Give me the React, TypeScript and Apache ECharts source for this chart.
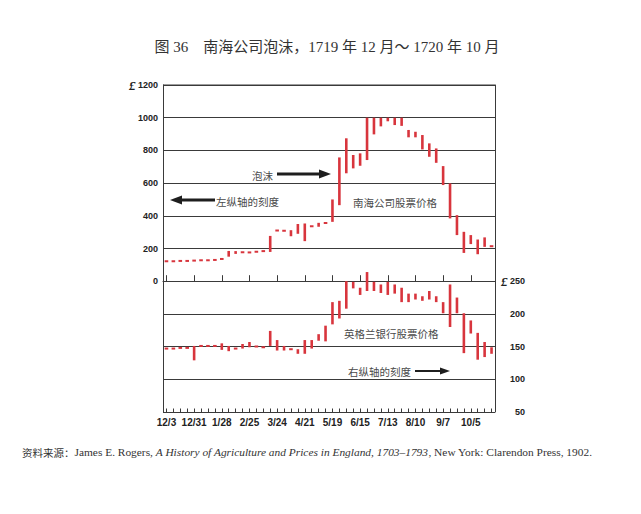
import React, { useEffect, useRef } from "react";
import * as echarts from "echarts";

// Weekly observation dates, Dec 1719 – Oct 1720
const weeks = [
  "12/3", "12/10", "12/17", "12/24", "12/31", "1/7", "1/14", "1/21",
  "1/28", "2/4", "2/11", "2/18", "2/25", "3/3", "3/10", "3/17",
  "3/24", "3/31", "4/7", "4/14", "4/21", "4/28", "5/5", "5/12",
  "5/19", "5/26", "6/2", "6/9", "6/15", "6/22", "6/29", "7/6",
  "7/13", "7/20", "7/27", "8/3", "8/10", "8/17", "8/24", "8/31",
  "9/7", "9/14", "9/21", "9/28", "10/5", "10/12", "10/19", "10/26",
];

// South Sea Company stock, weekly low / high (£, left axis)
const southSeaLow = [
  122, 122, 124, 124, 126, 128, 128, 130, 136, 150, 167, 177,
  176, 180, 184, 179, 309, 305, 275, 290, 245, 336, 333, 356,
  363, 465, 660, 690, 706, 741, 898, 947, 978, 955, 950, 880,
  880, 806, 761, 724, 588, 384, 282, 173, 227, 165, 210, 214,
];
const southSeaHigh = [
  122, 122, 124, 124, 126, 128, 128, 130, 136, 185, 184, 177,
  176, 180, 184, 277, 311, 312, 312, 350, 353, 336, 357, 356,
  500, 757, 874, 772, 782, 1000, 1000, 1000, 1000, 1000, 1000, 925,
  914, 894, 843, 812, 704, 598, 404, 302, 282, 255, 268, 214,
];

// Bank of England stock, weekly low / high (£, right axis)
const bankLow = [
  147, 147, 148, 148, 129, 151, 151, 151, 145, 143, 147, 147,
  149, 150, 149, 151, 144, 144, 146, 139, 139, 147, 159, 158,
  184, 193, 208, 239, 229, 235, 235, 232, 229, 231, 218, 218,
  222, 220, 222, 218, 201, 180, 201, 140, 170, 130, 134, 139,
];
const bankHigh = [
  147, 147, 148, 148, 151, 151, 151, 151, 155, 151, 147, 154,
  157, 150, 149, 174, 160, 151, 146, 146, 160, 160, 169, 182,
  218, 220, 250, 249, 240, 264, 249, 245, 249, 245, 240, 231,
  231, 227, 235, 227, 218, 245, 225, 201, 190, 171, 157, 149,
];

const leftTicks = { min: -800, max: 1200, interval: 200 };
const rightTicks = { min: 50, max: 550, interval: 50 };

const RED = "#d8353d";
const INK = "#3a3a3a";
const CJK = "'Noto Sans CJK SC', sans-serif";
const SERIF = "'Liberation Serif', 'Noto Sans CJK SC', serif";
const SANS = "'Liberation Sans', Arial, sans-serif";

const renderRange = (params: any, api: any) => {
  const i = api.value(0);
  const lo = api.coord([i, api.value(1)]);
  const hi = api.coord([i, api.value(2)]);
  const h = lo[1] - hi[1];
  if (h < 2.5) {
    const cy = (lo[1] + hi[1]) / 2;
    return {
      type: "rect",
      shape: { x: lo[0] - 1.8, y: cy - 1, width: 3.6, height: 2 },
      style: { fill: RED },
    };
  }
  return {
    type: "rect",
    shape: { x: lo[0] - 1.3, y: hi[1], width: 2.6, height: h },
    style: { fill: RED },
  };
};

export default function App() {
  const ref = useRef<HTMLDivElement>(null);

  useEffect(() => {
    if (!ref.current) return;
    const chart = echarts.init(ref.current, undefined, { renderer: "svg" });

    const southSeaData = weeks.map((_, i) => [i, southSeaLow[i], southSeaHigh[i]]);
    const bankData = weeks.map((_, i) => [i, bankLow[i], bankHigh[i]]);

    const arrowLine = (x1: number, x2: number, y: number, w: number) => ({
      type: "line",
      shape: { x1, y1: y, x2, y2: y },
      style: { stroke: "#1e1e1e", lineWidth: w },
      z: 10,
    });
    const arrowHead = (pts: number[][]) => ({
      type: "polygon",
      shape: { points: pts },
      style: { fill: "#1e1e1e" },
      z: 10,
    });
    const note = (text: string, x: number, y: number) => ({
      type: "text",
      x,
      y,
      style: {
        text,
        fill: "#4a4a4a",
        font: `10.5px ${CJK}`,
        textVerticalAlign: "middle",
      },
      z: 10,
    });

    chart.setOption({
      animation: false,
      backgroundColor: "#ffffff",
      grid: { left: 163, right: 146, top: 85, bottom: 102, show: false },
      xAxis: [
        {
          type: "category",
          data: weeks,
          boundaryGap: true,
          axisLine: { show: true, lineStyle: { color: INK, width: 1 } },
          axisTick: {
            show: true,
            alignWithLabel: true,
            interval: 3,
            inside: true,
            length: 6,
            lineStyle: { color: INK },
          },
          axisLabel: {
            interval: 3,
            margin: 5,
            color: "#222",
            fontSize: 10,
            fontFamily: SANS,
            fontWeight: "bold",
          },
          splitLine: { show: false },
        },
        {
          type: "category",
          data: weeks,
          boundaryGap: true,
          position: "bottom",
          axisLine: { show: false },
          axisTick: {
            show: true,
            alignWithLabel: true,
            interval: 0,
            inside: true,
            length: 3.5,
            lineStyle: { color: INK },
          },
          axisLabel: { show: false },
          splitLine: { show: false },
        },
      ],
      yAxis: [
        {
          type: "value",
          position: "left",
          ...leftTicks,
          axisLine: { show: true, lineStyle: { color: INK, width: 1 } },
          axisTick: { show: false },
          splitLine: { show: true, lineStyle: { color: INK, width: 1 } },
          axisLabel: {
            margin: 5,
            color: "#222",
            fontSize: 9,
            fontFamily: SANS,
            fontWeight: "bold",
            formatter: (v: number) =>
              v < 0 ? "" : v === 1200 ? "{p|£} 1200" : String(v),
            rich: {
              p: { fontFamily: SERIF, fontStyle: "italic", fontSize: 13, color: "#222" },
            },
          },
        },
        {
          type: "value",
          position: "right",
          ...rightTicks,
          axisLine: { show: true, lineStyle: { color: INK, width: 1 } },
          axisTick: { show: false },
          splitLine: { show: false },
          axisLabel: {
            margin: 30,
            align: "right",
            color: "#222",
            fontSize: 9,
            fontFamily: SANS,
            fontWeight: "bold",
            formatter: (v: number) =>
              v > 250 ? "" : v === 250 ? "{p|£} 250" : String(v),
            rich: {
              p: { fontFamily: SERIF, fontStyle: "italic", fontSize: 13, color: "#222" },
            },
          },
        },
      ],
      series: [
        {
          name: "南海公司股票价格",
          type: "custom",
          xAxisIndex: 0,
          yAxisIndex: 0,
          renderItem: renderRange,
          encode: { x: 0, y: [1, 2] },
          data: southSeaData,
          z: 5,
        },
        {
          name: "英格兰银行股票价格",
          type: "custom",
          xAxisIndex: 0,
          yAxisIndex: 1,
          renderItem: renderRange,
          encode: { x: 0, y: [1, 2] },
          data: bankData,
          z: 5,
        },
      ],
      graphic: [
        {
          type: "line",
          shape: { x1: 163, y1: 85, x2: 495, y2: 85 },
          style: { stroke: INK, lineWidth: 1 },
        },
        {
          type: "text",
          x: 327,
          y: 47,
          style: {
            text: "图 36　南海公司泡沫，1719 年 12 月～ 1720 年 10 月",
            fill: "#333",
            font: `15px ${SERIF}`,
            textAlign: "center",
            textVerticalAlign: "middle",
          },
        },
        note("泡沫", 252, 175),
        arrowLine(277, 321, 174, 3),
        arrowHead([[319, 169.5], [331, 174], [319, 178.5]]),
        note("左纵轴的刻度", 216, 201),
        arrowLine(181, 215, 200, 3),
        arrowHead([[182, 195.5], [170, 200], [182, 204.5]]),
        note("南海公司股票价格", 353, 202),
        note("英格兰银行股票价格", 344, 333),
        note("右纵轴的刻度", 348, 371),
        arrowLine(415, 441, 371, 2),
        arrowHead([[440, 367.5], [450, 371], [440, 374.5]]),
        {
          type: "text",
          x: 22,
          y: 452,
          style: {
            text:
              "{a|资料来源：}{b|James E. Rogers, }{i|A History of Agriculture and Prices in England, 1703–1793}{b|, New York: Clarendon Press, 1902.}",
            textVerticalAlign: "middle",
            rich: {
              a: { fontFamily: CJK, fontSize: 10.5, fill: "#333", color: "#333" },
              b: { fontFamily: SERIF, fontSize: 11.4, fill: "#333", color: "#333" },
              i: { fontFamily: SERIF, fontSize: 11.4, fontStyle: "italic", fill: "#333", color: "#333" },
            },
          },
        },
      ],
    });

    return () => chart.dispose();
  }, []);

  return (
    <div
      ref={ref}
      style={{ position: "absolute", left: 0, top: 0, width: 641, height: 514 }}
    />
  );
}
